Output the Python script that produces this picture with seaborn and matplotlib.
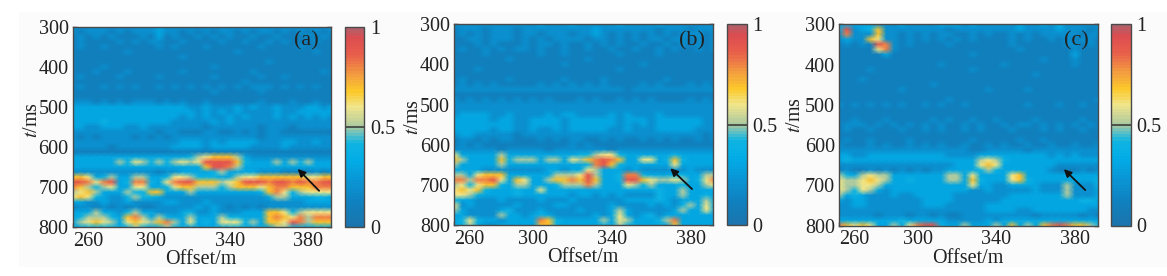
import numpy as np
import matplotlib
matplotlib.use("Agg")
import matplotlib.pyplot as plt
from matplotlib.colors import LinearSegmentedColormap
from matplotlib.patches import Rectangle
import seaborn as sns

# values, one digit per cell = amplitude in tenths
offsets = np.arange(260, 393, 4)
times = np.arange(0, 41) * 12.5 + 300
x_ticks = [260, 300, 340, 380]
y_ticks = [300, 400, 500, 600, 700, 800]
cbar_ticks = [0, 0.5, 1]
cbar_labels = ["0", "0.5", "1"]
panel_names = ["(a)", "(b)", "(c)"]

panel_a = [
    "2222222222 2322222222 2222222222 2222",
    "2122212122 2322121212 2121221212 1212",
    "1212121112 1312112121 2112112111 2121",
    "1211112121 2211211112 1121121211 1211",
    "1211211111 1212111211 1111211112 1111",
    "1111111211 1111111111 1211111111 1211",
    "1111111111 1111211111 1111111111 1111",
    "1111111111 1111111111 1111121111 1111",
    "1111211111 1111111121 1111111111 1111",
    "1112111211 1111211111 1112111111 1121",
    "1211112111 1211111121 1111211211 1111",
    "1111111111 1111111111 1121111111 1111",
    "1211212121 1212121212 1212221212 1211",
    "1111111111 1111111121 1111211111 1111",
    "1111111111 1111111111 1111111111 1111",
    "2221212122 2121211211 1111211121 1211",
    "3333333333 3333322322 2323223222 3323",
    "3333333333 3333332323 2322223223 3333",
    "3333333333 3333232322 3232223232 3232",
    "3333433333 3332222232 3222222222 2222",
    "3322333223 2222222122 2222122212 2222",
    "2222222222 2122111221 1212122111 1111",
    "2121222212 1212222222 2222122222 2222",
    "2222222222 2222333232 3333222332 2322",
    "2222212222 2223333233 3332222322 2222",
    "1111111111 1111111111 1111111111 1111",
    "3333333333 3333345677 7532222222 2222",
    "3333335465 4545656999 9743335354 5333",
    "3333333333 3333333799 8533333333 3333",
    "2222222222 2122333345 3333222111 1212",
    "7763453355 3346654443 3566777777 6677",
    "9986893488 4368997775 6799989989 8899",
    "8754563366 3346775554 5777678877 7888",
    "5675333544 7733353333 3333478645 6666",
    "6764322454 4322222222 2222235533 3443",
    "3322322322 2233222322 2222222222 3333",
    "1221212121 1222223232 1212122222 2222",
    "3335332453 3222342232 2233377645 6666",
    "3455543785 3543353335 4433378768 5888",
    "3567653676 5785363436 6645377698 5777",
    "3344443454 3454333333 4433335544 3444",
]

panel_b = [
    "2222222222 2322232222 2322223222 2222",
    "1222122212 2222222232 2222221222 1222",
    "1212122212 2122212232 1212121212 2212",
    "1122122212 1212222122 1212122122 1212",
    "1112121112 1221211212 1211211212 1212",
    "1211212122 1211211211 2112112121 1212",
    "1111211111 1211211111 1211112111 1111",
    "1111111211 1111111211 1111111111 1111",
    "1111111111 1111211111 1111211111 1111",
    "1112111111 1111111111 1211111111 1111",
    "1111111111 1111111111 1111111111 1111",
    "1211111211 1111211112 1111111211 1111",
    "1212121111 1212121212 1111212111 2121",
    "2222222222 2222222222 2212222222 2222",
    "1111111111 1111111111 1111111111 1111",
    "2121212121 2121112121 1212121111 2121",
    "2222222222 2222222222 2222222222 2222",
    "2222222222 2222222222 2222222222 2222",
    "2333322322 2232332222 3232223222 2222",
    "3333323322 3333233333 3233323333 3322",
    "3333333322 3333233333 3232323333 3322",
    "3333323322 3223233333 2232223333 3222",
    "2332222212 2222222222 2222222222 2212",
    "1221212211 1212122112 1211212121 1212",
    "1212111111 1111121211 1111111111 1111",
    "2222221222 2212222222 1222222222 2222",
    "6333335333 3333334456 6433333343 3333",
    "7533337455 5355365789 8733663474 3333",
    "5333335333 3333333489 7433333363 3333",
    "3333222222 2233233653 3323222222 3222",
    "5536777333 3335556953 3488433344 3355",
    "8858896376 3357787973 3499765565 3468",
    "5646774355 3334555853 3365453334 3356",
    "6767433343 3633333333 3333334335 3333",
    "6654333343 3333323323 2322224335 3343",
    "4332223222 2322232222 2233334323 3353",
    "6232222232 2223322222 3222232324 5363",
    "5322223422 2322223222 3532222235 3363",
    "3322225332 3432222232 3632342333 3333",
    "3464332333 3874333335 3653334583 3333",
    "3453223333 3774333334 3543333373 3333",
]

panel_c = [
    "3433322232 2223332322 2223223242 2222",
    "4923472222 2222122222 2223222232 2212",
    "2822272212 1212211212 1121212222 2122",
    "2322762212 1212121211 1121211212 1221",
    "1212198212 1111211111 1121111112 2121",
    "1111168211 1111111111 1112111111 2111",
    "1111113111 1111111211 1111111111 3111",
    "1111111111 1111111111 1111112111 2111",
    "1111111111 1112111111 1211111111 2111",
    "1111211111 1111111211 1111111111 1111",
    "1111111111 1111111111 1111121111 1111",
    "1112111111 1111111111 1111111111 1111",
    "1111111111 1121111111 1111111111 1111",
    "1111111121 1111111112 1111211111 1111",
    "1111111111 1111111111 1111111111 1111",
    "1111111111 1111211111 1111111111 1112",
    "2121212121 1212112111 1111211121 1211",
    "1111111111 1111111111 1111111111 1111",
    "1111111111 1111111111 1111111111 1111",
    "1121112111 1121211211 2111121111 1211",
    "1222121212 1212112121 1212212121 2121",
    "1211211121 1212112121 1121112121 1211",
    "1111111111 1111111111 1111111111 1111",
    "1211211112 1111111211 1112112111 1111",
    "2111212112 1212112112 1211211211 2112",
    "2222222222 2222222112 2222122222 2222",
    "3322333333 3333222233 3333333232 3222",
    "3433333333 3333333356 5433333333 3333",
    "2222222222 2222233367 6333333322 2222",
    "1211212121 2122333345 4333333211 1212",
    "5435655333 3333553633 3367333333 3333",
    "6556765334 3333553743 3367433333 3334",
    "6556653333 3333333633 2233332225 2224",
    "6546532333 3333333223 2222232225 2223",
    "5343222322 3333322222 2233333335 2223",
    "3233222222 2333322222 2333333333 3443",
    "2233222222 2333222223 3333333333 3333",
    "2222222222 2222222223 3332233333 3322",
    "2222212221 2212112222 2222212222 2121",
    "3333333343 3333222223 2333333333 3333",
    "8767633536 8994335333 5373537898 7754",
]

cmap_pos = [0, 0.12, 0.22, 0.33, 0.42, 0.46, 0.5, 0.55, 0.6, 0.68, 0.76, 0.86, 0.95, 1]
cmap_colors = ["#1a74ad", "#0f82c0", "#0a94d4", "#02ace6", "#0fb4e2", "#5cc0c4",
               "#a6c8a2", "#cfd795", "#f0e68c", "#fcc92a", "#f3a040", "#e9604a",
               "#dc4c50", "#b0606a"]
seismic = LinearSegmentedColormap.from_list("seis", list(zip(cmap_pos, cmap_colors)), N=64)

sns.set_style("ticks")
plt.rcParams['font.family'] = ['Liberation Serif', 'DejaVu Serif']
plt.rcParams['mathtext.fontset'] = 'stix'

W, H = 1167, 276
fig = plt.figure(figsize=(W / 100, H / 100), dpi=100, facecolor="white")
fig.patches.append(Rectangle((19 / W, 1 - 267 / H), 1 - 19 / W, 255 / H, transform=fig.transFigure,
                             facecolor="#fbfbfb", edgecolor="none", zorder=-5))


def px_axes(left, top, right, bottom):
    return fig.add_axes([left / W, 1 - bottom / H, (right - left) / W, (bottom - top) / H])


def decode(rows):
    return np.array([[int(c) / 10 for c in r.replace(" ", "")] for r in rows])


# px boxes of heatmap and colorbar, then the arrow and text spots in axes fractions
layout = [
    (panel_a, (72.7, 26.7, 331, 227.3), (345.3, 364.3), (0.871, 0.291), (0.954, 0.182), (0.906, 0.93), -0.12, 0.535),
    (panel_b, (454.3, 24, 713.3, 225.3), (727.3, 746.7), (0.834, 0.283), (0.918, 0.180), (0.917, 0.917), -0.121, 0.54),
    (panel_c, (839, 24.3, 1097.7, 225.5), (1111.3, 1131), (0.869, 0.28), (0.952, 0.176), (0.918, 0.917), -0.131, 0.55),
]
frame = "#4a4a4a"
text_col = "#222222"
font_size = 14.5

for name, (rows, box, cb_x, tip, tail, name_xy, ylab_x, ylab_y) in zip(panel_names, layout):
    ax = px_axes(*box)
    cax = px_axes(cb_x[0], box[1], cb_x[1], box[3])
    sns.heatmap(decode(rows), ax=ax, cbar_ax=cax, cmap=seismic, vmin=0, vmax=1,
                xticklabels=False, yticklabels=False, shading="gouraud",
                cbar_kws={"ticks": cbar_ticks})

    step_x = offsets[1] - offsets[0]
    step_y = times[1] - times[0]
    ax.set_xlim(0, (391.5 - offsets[0]) / step_x)
    ax.set_ylim(len(times) - 1, 0)
    ax.set_xticks([(v - offsets[0]) / step_x for v in x_ticks])
    ax.set_xticklabels(x_ticks)
    ax.set_yticks([(v - times[0]) / step_y for v in y_ticks])
    ax.set_yticklabels(y_ticks)
    ax.get_xticklabels()[0].set_ha("left")
    ax.tick_params(axis="both", direction="in", length=3, width=1, color="#333333",
                   labelsize=font_size, labelcolor=text_col, pad=3, right=True)
    ax.tick_params(axis="x", pad=3.5)
    for sp in ax.spines.values():
        sp.set_visible(True)
        sp.set_color(frame)
        sp.set_linewidth(1)

    ax.set_xlabel("Offset/m", fontsize=font_size, color=text_col)
    ax.xaxis.set_label_coords(0.497, -0.115)
    ax.set_ylabel("$t$/ms", fontsize=font_size, color=text_col)
    ax.yaxis.set_label_coords(ylab_x, ylab_y)

    ax.text(name_xy[0], name_xy[1], name, transform=ax.transAxes, ha="center", va="center",
            fontsize=16, color=text_col)
    ax.annotate("", xy=tip, xytext=tail, xycoords="axes fraction", textcoords="axes fraction",
                arrowprops=dict(arrowstyle="-|>", color="#111111", lw=1.3, mutation_scale=11,
                                shrinkA=0, shrinkB=0))

    cbar = ax.collections[0].colorbar
    cbar.set_ticklabels(cbar_labels)
    cbar.ax.tick_params(length=0, labelsize=font_size, labelcolor=text_col, pad=4)
    cbar.outline.set_visible(True)
    cbar.outline.set_linewidth(1)
    cbar.outline.set_edgecolor(frame)
    cbar.ax.axhline(0.5, color="#333333", lw=1.1)

fig.savefig("out.png", dpi=100)
